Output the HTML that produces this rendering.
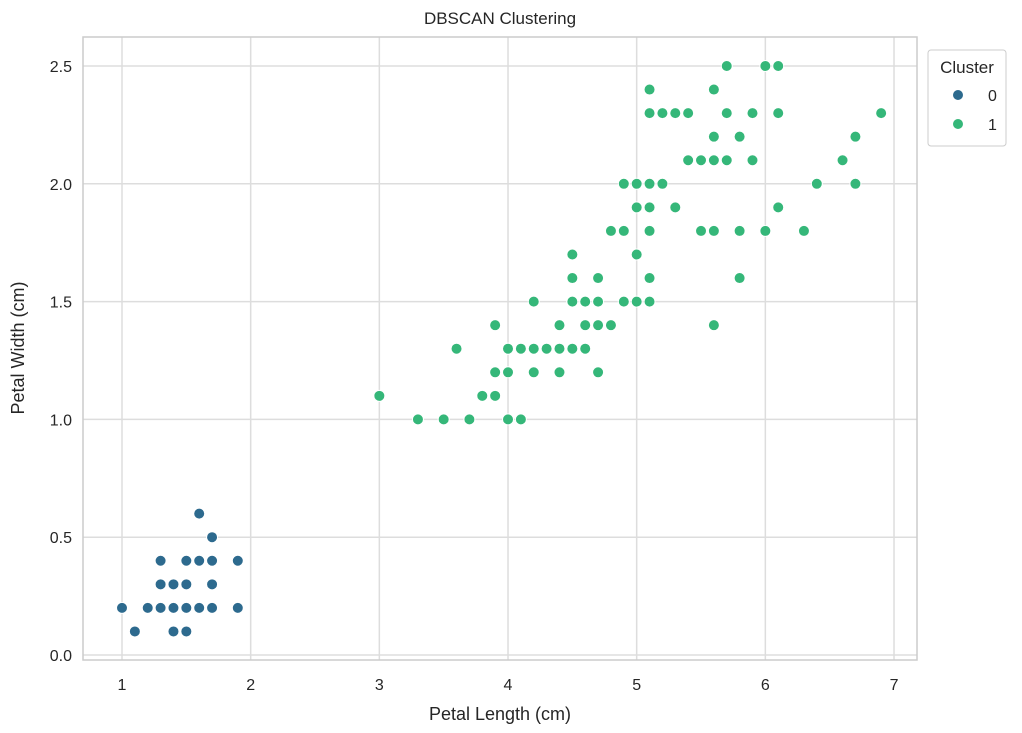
<!DOCTYPE html>
<html><head><meta charset="utf-8"><style>
body{margin:0;background:#fff;font-family:"Liberation Sans",sans-serif;}
svg text{font-family:"Liberation Sans",sans-serif;fill:#262626;}
</style></head><body>
<svg id="chart" width="1022" height="728" xmlns="http://www.w3.org/2000/svg">
<text x="500" y="24" font-size="17" text-anchor="middle">DBSCAN Clustering</text>
<g id="grid"></g><g id="pts"></g><g id="ticks"></g>
<rect x="83" y="37" width="834" height="623" fill="none" stroke="#cccccc" stroke-width="1.5"/>
<text x="500" y="720" font-size="18" text-anchor="middle">Petal Length (cm)</text>
<text transform="translate(24,348) rotate(-90)" font-size="18" text-anchor="middle">Petal Width (cm)</text>
<g>
<rect x="928" y="50" width="78" height="96" fill="#fff" stroke="#cccccc" rx="3"/>
<text x="967" y="73" font-size="17" text-anchor="middle">Cluster</text>
<circle cx="958" cy="95" r="5.5" fill="#2d6a8e" stroke="#fff"/>
<text x="988" y="101" font-size="16">0</text>
<circle cx="958" cy="124" r="5.5" fill="#35b779" stroke="#fff"/>
<text x="988" y="130" font-size="16">1</text>
</g>
</svg>
<script>
const setosaLen=[1.4,1.4,1.3,1.5,1.4,1.7,1.4,1.5,1.4,1.5,1.5,1.6,1.4,1.1,1.2,1.5,1.3,1.4,1.7,1.5,1.7,1.5,1.0,1.7,1.9,1.6,1.6,1.5,1.4,1.6,1.6,1.5,1.5,1.4,1.5,1.2,1.3,1.4,1.3,1.5,1.3,1.3,1.3,1.6,1.9,1.4,1.6,1.4,1.5,1.4];
const setosaWid=[0.2,0.2,0.2,0.2,0.2,0.4,0.3,0.2,0.2,0.1,0.2,0.2,0.1,0.1,0.2,0.4,0.4,0.3,0.3,0.3,0.2,0.4,0.2,0.5,0.2,0.2,0.4,0.2,0.2,0.2,0.2,0.4,0.1,0.2,0.2,0.2,0.2,0.1,0.2,0.2,0.3,0.3,0.2,0.6,0.4,0.3,0.2,0.2,0.2,0.2];
const otherLen=[4.7,4.5,4.9,4.0,4.6,4.5,4.7,3.3,4.6,3.9,3.5,4.2,4.0,4.7,3.6,4.4,4.5,4.1,4.5,3.9,4.8,4.0,4.9,4.7,4.3,4.4,4.8,5.0,4.5,3.5,3.8,3.7,3.9,5.1,4.5,4.5,4.7,4.4,4.1,4.0,4.4,4.6,4.0,3.3,4.2,4.2,4.2,4.3,3.0,4.1,
6.0,5.1,5.9,5.6,5.8,6.6,4.5,6.3,5.8,6.1,5.1,5.3,5.5,5.0,5.1,5.3,5.5,6.7,6.9,5.0,5.7,4.9,6.7,4.9,5.7,6.0,4.8,4.9,5.6,5.8,6.1,6.4,5.6,5.1,5.6,6.1,5.6,5.5,4.8,5.4,5.6,5.1,5.1,5.9,5.7,5.2,5.0,5.2,5.4,5.1];
const otherWid=[1.4,1.5,1.5,1.3,1.5,1.3,1.6,1.0,1.3,1.4,1.0,1.5,1.0,1.4,1.3,1.4,1.5,1.0,1.5,1.1,1.8,1.3,1.5,1.2,1.3,1.4,1.4,1.7,1.5,1.0,1.1,1.0,1.2,1.6,1.5,1.6,1.5,1.3,1.3,1.3,1.2,1.4,1.2,1.0,1.3,1.2,1.3,1.3,1.1,1.3,
2.5,1.9,2.1,1.8,2.2,2.1,1.7,1.8,1.8,2.5,2.0,1.9,2.1,2.0,2.4,2.3,1.8,2.2,2.3,1.5,2.3,2.0,2.0,1.8,2.1,1.8,1.8,1.8,2.1,1.6,1.9,2.0,2.2,1.5,1.4,2.3,2.4,1.8,1.8,2.1,2.4,2.3,1.9,2.3,2.5,2.3,1.9,2.0,2.3,1.8];
const xTicks=[1,2,3,4,5,6,7];
const yTicks=[0.0,0.5,1.0,1.5,2.0,2.5];
const NS="http://www.w3.org/2000/svg";
const sx=v=>122+(v-1)*128.67;
const sy=v=>655-v*235.6;
function mk(t,a,p){const e=document.createElementNS(NS,t);for(const k in a)e.setAttribute(k,a[k]);p.appendChild(e);return e;}
const grid=document.getElementById('grid'),ticks=document.getElementById('ticks'),pts=document.getElementById('pts');
xTicks.forEach(v=>{
 const l=mk('line',{x1:sx(v),x2:sx(v),y1:37,y2:660,stroke:'#dddddd','stroke-width':1.5},grid);
 
 
 const t=mk('text',{x:sx(v),y:690,'font-size':16,'text-anchor':'middle'},ticks);
 t.textContent=v;
 
 
});
yTicks.forEach(v=>{
 const l=mk('line',{x1:83,x2:917,y1:sy(v),y2:sy(v),stroke:'#dddddd','stroke-width':1.5},grid);
 
 
 const t=mk('text',{x:72,y:sy(v)+6,'font-size':16,'text-anchor':'end'},ticks);
 t.textContent=v.toFixed(1);
 
 
});
function draw(L,W,c,n){L.forEach((x,i)=>{
 const p=mk('circle',{cx:sx(x),cy:sy(W[i]),r:5.5,fill:c,stroke:'#fff','stroke-width':1},pts);
 
 
});}
draw(setosaLen,setosaWid,'#2d6a8e','point-cluster-0');
draw(otherLen,otherWid,'#35b779','point-cluster-1');
</script>
</body></html>
